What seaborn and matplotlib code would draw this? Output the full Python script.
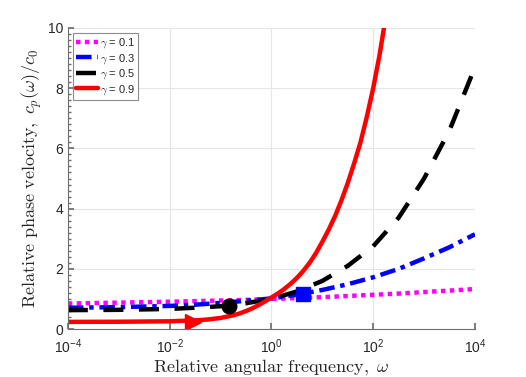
import numpy as np
import pandas as pd
import seaborn as sns
import matplotlib.pyplot as plt
from matplotlib.ticker import MultipleLocator, NullLocator, FixedLocator

# log10 of relative angular frequency where the curves were read
log_w = [-4, -3, -2, -1.5, -1, -0.5, 0, 0.5, 1, 1.5, 2, 2.5, 3, 3.5, 4]
c_g01 = [0.85, 0.88, 0.91, 0.93, 0.95, 0.97, 1.00, 1.03, 1.06, 1.10, 1.14, 1.18, 1.23, 1.28, 1.33]
c_g03 = [0.71, 0.73, 0.77, 0.81, 0.87, 0.94, 1.02, 1.14, 1.30, 1.49, 1.72, 2.00, 2.35, 2.72, 3.15]
c_g05 = [0.63, 0.64, 0.67, 0.71, 0.76, 0.86, 1.00, 1.25, 1.60, 2.10, 2.75, 3.70, 5.00, 6.60, 8.70]

# gamma = 0.9 rises steeply, read more densely
log_w_09 = [-4, -3, -2, -1.5, -1.25, -1, -0.75, -0.625, -0.5, -0.375, -0.25, -0.125, 0,
            0.125, 0.25, 0.375, 0.5, 0.625, 0.75, 0.875, 1, 1.125, 1.25, 1.375, 1.5,
            1.625, 1.75, 1.875, 2, 2.125, 2.25, 2.375, 2.5]
c_g09 = [0.24, 0.245, 0.26, 0.29, 0.32, 0.37, 0.46, 0.52, 0.60, 0.69, 0.80, 0.92, 1.05,
         1.18, 1.33, 1.50, 1.70, 1.93, 2.20, 2.52, 2.90, 3.30, 3.75, 4.27, 4.85,
         5.50, 6.20, 7.05, 8.00, 9.10, 10.4, 11.7, 13.3]

# highlighted points
mark_w = [0.029, 0.15, 4.2]
mark_c = [0.24, 0.77, 1.18]

sns.set_theme(style='white')
plt.rcParams['font.family'] = ['Liberation Sans', 'DejaVu Sans']

fig = plt.figure(figsize=(5.26, 3.77), dpi=100)
ax = fig.add_axes([0.129, 0.127, 0.774, 0.799])

w = [10 ** v for v in log_w]
w09 = [10 ** v for v in log_w_09]

lw = 3.2
sns.lineplot(x=w, y=c_g01, ax=ax, color='#ff00ff', lw=lw, linestyle=(0, (1, 1)),
             label=r'$\gamma$ = 0.1', sort=False)
sns.lineplot(x=w, y=c_g03, ax=ax, color='#0000ff', lw=lw, linestyle=(0, (3.5, 1.3, 1, 1.3)),
             label=r'$\gamma$ = 0.3', sort=False)
sns.lineplot(x=w, y=c_g05, ax=ax, color='black', lw=lw, linestyle=(0, (4.5, 3.5)),
             label=r'$\gamma$ = 0.5', sort=False)
sns.lineplot(x=w09, y=c_g09, ax=ax, color='#ff0000', lw=lw, linestyle='-',
             label=r'$\gamma$ = 0.9', sort=False)

ax.plot(mark_w[0], mark_c[0], marker='>', ms=12, color='#ff0000', mec='#ff0000', ls='none')
ax.plot(mark_w[1], mark_c[1], marker='o', ms=10.5, color='black', mec='black', ls='none')
ax.plot(mark_w[2], mark_c[2], marker='s', ms=10, color='#0000ff', mec='#0000ff', ls='none')

ax.set_xscale('log')
ax.set_xlim(1e-4, 1e4)
ax.set_ylim(0, 10)
ax.xaxis.set_major_locator(FixedLocator([1e-4, 1e-2, 1, 1e2, 1e4]))
ax.xaxis.set_minor_locator(NullLocator())
ax.yaxis.set_major_locator(MultipleLocator(2))
ax.yaxis.set_minor_locator(MultipleLocator(0.2))

ax.grid(True, which='major', color='#e6e6e6', lw=0.8)
ax.set_axisbelow(True)
for s in ['top', 'right']:
    ax.spines[s].set_visible(False)
for s in ['left', 'bottom']:
    ax.spines[s].set_color('#6e6e6e')
    ax.spines[s].set_linewidth(0.8)

ax.tick_params(which='both', direction='in', colors='#6e6e6e', labelcolor='#262626',
               labelsize=10, left=True, bottom=True)
ax.tick_params(which='major', length=4)
ax.tick_params(which='minor', length=2)
ax.tick_params(axis='x', pad=6)

ax.set_xlabel(r'$\mathrm{Relative\ angular\ frequency,}\ \omega$', fontsize=13,
              math_fontfamily='cm', color='#262626')
ax.set_ylabel(r'$\mathrm{Relative\ phase\ velocity,}\ c_p(\omega)/c_0$', fontsize=13,
              math_fontfamily='cm', color='#262626')
ax.xaxis.set_label_coords(0.5, -0.095)
ax.yaxis.set_label_coords(-0.058, 0.5)

leg = ax.legend(loc='upper left', fontsize=8, frameon=True, fancybox=False,
                edgecolor='#8c8c8c', framealpha=1, borderaxespad=0.45,
                handlelength=2.0, handletextpad=0.1, labelspacing=0.15, borderpad=0.3)
leg.get_frame().set_linewidth(0.8)
for t in leg.get_texts():
    t.set_math_fontfamily('cm')

fig.savefig('out.png', dpi=100)
